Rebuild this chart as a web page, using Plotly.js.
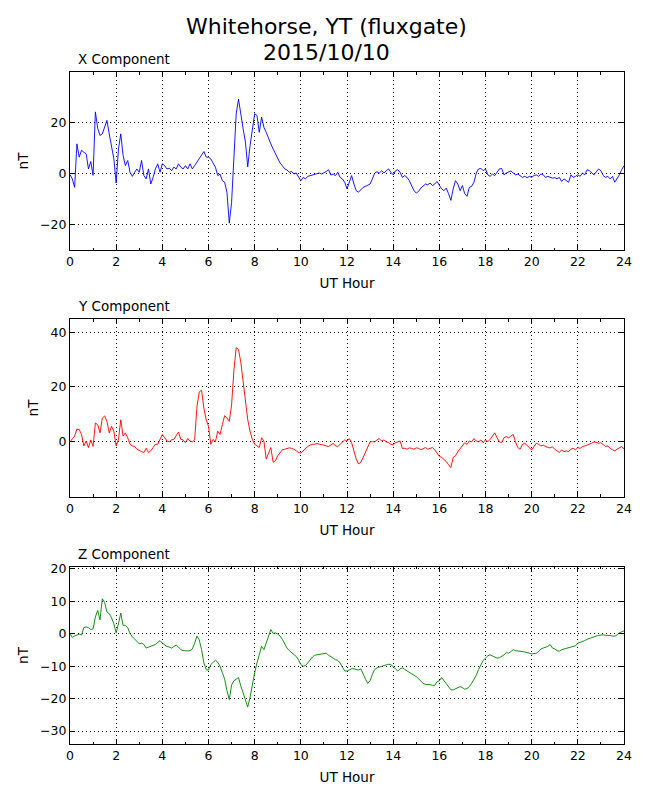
<!DOCTYPE html>
<html>
<head>
<meta charset="utf-8">
<script src="https://cdn.plot.ly/plotly-3.0.1.min.js"></script>
<style>
  html, body { margin: 0; padding: 0; background: #fff; }
  #plot { width: 650px; height: 800px; }
</style>
</head>
<body>
<div id="plot"></div>
<script>
const xComp = [
  -0.5, -2.2, -5.5, 11.5, 6.3, 9, 8.2, 7.6, 1.7, 4.6,
  -0.8, 24, 17.6, 14.8, 15.4, 18, 20.7, 15.4, 10.8, 5.6,
  -3.8, 9.5, 15.4, 7, 3, 5, 0.4, -1.2, 0.4, 1.7,
  0.4, 5, -0.9, -2.2, 1.7, -4.2, -1.6, 1.7, 3.7, 0.4,
  3.7, 3, 1.7, 2, 1, 2.4, 1.7, 3.7, 2.4, 1.7,
  3, 1.7, 3.7, 1.7, 3, 4.3, 5.6, 6.7, 8.5, 6.3,
  6.3, 5.6, 3.7, 2.4, -0.9, -0.3, -2.9, -3.5, -7.5, -19.5,
  -11.4, 8.2, 23.3, 29, 24, 17.4, 12.2, 2.5, 10.8, 17.4,
  23.3, 22.6, 16, 22, 18, 16, 13.5, 11.5, 9.5, 7.6,
  5.9, 4, 3, 1.7, 1.3, 0.4, 0.7, -0.3, 0.1, -1.2,
  -2.9, -1.6, -2.2, -1.2, -0.9, -0.7, -0.4, -0.3, 0.1, -0.3,
  0.1, 0.7, 1.4, -0.7, -0.3, -0.9, 0.4, -1.6, -2.2, -3.5,
  -6.1, -3.5, -0.9, -4.2, -6.8, -7.4, -6.4, -5.5, -5.1, -4.5,
  -4.2, -2.2, 0.1, 0.6, 0.1, 1, 0.1, 1, 1.7, 0.4,
  -0.6, 1, 1.4, 0.4, -1.6, -0.9, -1.6, -2.9, -4.8, -6.8,
  -7.7, -7.1, -5.8, -4.8, -4.2, -4.5, -3.8, -4.8, -4.2, -3.2,
  -4.5, -6.1, -6.8, -5.8, -8, -10.6, -6.1, -2.9, -4.2, -6.8,
  -4.8, -8, -9, -5.5, -5.1, -3.5, 0.1, 1.7, 1.9, 1,
  1.7, -0.6, -1.2, -0.3, -0.9, 0.4, 1.7, 1.9, -0.6, 0.1,
  0.6, 0.9, 0.1, -0.6, -0.3, -0.9, -1.6, -1.2, -1.7, -1.2,
  -1.6, -0.9, -0.6, -1.2, -0.3, -0.6, -1.6, -1.2, -1.7, -1.9,
  -1.7, -2.2, -1.6, -3.2, -2.2, -2.9, -3.5, -0.6, -1.6, -1.2,
  -0.6, -1.2, 0.1, -0.6, 1.4, 1, 0.1, -0.6, 0.6, 1.7,
  1, -0.9, -1.6, -1.2, -2.2, -1.2, -3.5, -2.2, -0.6, 1.4,
  3
]

const yComp = [
  -0.2, 0.7, 1.9, 4.5, 4.3, 2.5, -1.7, 0.1, -2.3, 0.5,
  -1.9, 6.7, 6.1, 3.1, 8.5, 9.3, 7.3, 3.1, 5.5, 3.7,
  -1.7, 0.7, 7.9, 1.9, 3.1, 1.3, -1.1, -1.7, -1.9, -2.9,
  -3.5, -3.8, -4.1, -2.6, -4.1, -3.5, -2.3, -1.1, -1.1, 0.7,
  2.5, 1.3, 0.1, -0.2, 0.5, 0.7, 1.9, 3.4, 0.7, 0.5,
  -0.5, 1, 0.1, -0.2, 0.5, 12.7, 18.1, 18.7, 12.1, 7.9,
  5.5, -1.1, 0.7, -0.2, 3.7, 2.5, 6.1, 9.4, 8.5, 7.3,
  13.3, 25.9, 34.3, 33.7, 28.9, 21.1, 13.9, 7.9, 3.7, 0.7,
  -1.1, -1.7, -2.3, 1.3, 0.1, -6.5, -4.1, -2.3, -7.7, -7.1,
  -5.3, -4.1, -3.1, -2.9, -2.6, -2.4, -2.6, -2.9, -3.5, -4.1,
  -4.3, -3.5, -2.6, -1.9, -1.4, -1.1, -1.1, -0.8, -1.1, -1.2,
  -1.4, -1.7, -1.9, -1.4, -0.7, -1.7, -1.9, -1.1, -0.2, 0.5,
  0.1, 1, -0.5, -3.5, -6.5, -8.3, -7.7, -5.9, -4.1, -2.3,
  -0.2, -0.1, -0.2, 0.5, 1, 0.1, 0.5, -0.2, -0.5, -1.1,
  -1.4, -0.5, -0.2, 0.1, -2.6, -2.6, -2.9, -2.4, -2.6, -2.9,
  -2.4, -2.6, -3.1, -2.6, -2.3, -2.9, -2.6, -2.3, -3.1, -4.1,
  -5.5, -5.9, -6.5, -7.4, -8.6, -9.6, -5.9, -5.3, -3.8, -2.6,
  -1.7, -0.5, -1.1, 0.1, -0.2, 1, 0.1, -0.2, 0.5, -0.5,
  0.5, -0.2, 0.7, 1.7, 3.1, 1.3, -0.2, -0.5, 1.3, 1.7,
  1.3, 1.9, 2.5, -0.2, -2.3, -2.9, -1.1, -0.7, -1.4, -2.3,
  -3.2, -1.7, -0.7, -1.1, -1.7, -1.4, -1.9, -2.3, -2.4, -2.0,
  -2.9, -3.5, -4.1, -3.1, -3.8, -3.5, -3.8, -2.9, -2.6, -3.1,
  -2.3, -2.6, -1.9, -1.7, -1.4, -1.1, -0.7, -0.2, -0.5, -0.7,
  -0.5, -1.4, -1.9, -1.7, -2.6, -3.1, -3.5, -2.9, -2.3, -1.9,
  -2.9
]

const zComp = [
  -0.1, -1.1, -0.7, -0.3, -0.1, -0.4, 1.9, 2.1, 1.9, 1.3,
  1.5, 5.2, 7.2, 4.3, 10.8, 9.7, 6.7, 6.2, 4.9, 3.1,
  0.3, 3.1, 6.4, 2.6, 2.6, 1.9, 0.1, -0.9, -1.7, -2.5,
  -3.1, -2.9, -3.3, -4.4, -4.1, -3.9, -3.5, -3.3, -2.7, -2.1,
  -2.9, -3.4, -3.9, -4.1, -4.4, -3.9, -3.5, -4.1, -4.9, -5.2,
  -5.3, -5.3, -5.2, -4.7, -2.9, -0.7, -1.9, -4.9, -9, -11.1,
  -11.2, -9.5, -8.8, -8.2, -8.8, -10, -12, -14, -17.6, -20.3,
  -15.8, -14.5, -14, -13.5, -16.1, -18.1, -20.1, -22.6, -19.6, -15.6,
  -12, -9, -6, -3.9, -4.9, -2.9, -0.4, 1.3, 0.1, 0.3,
  -0.1, -0.7, -1.7, -3.1, -4.4, -5.2, -5.8, -6.5, -7, -8,
  -9.5, -10, -9.8, -9, -8, -7.2, -6.6, -6.5, -6.3, -6.2,
  -6.2, -6, -6.6, -7.2, -7.5, -8, -8.2, -9, -10.2, -11.5,
  -11.5, -11.2, -10.8, -10.8, -11, -11.2, -10.8, -12.5, -14, -15.3,
  -14.5, -12.5, -11, -10.5, -10.2, -10, -9.8, -9.6, -9.4, -9.5,
  -10.2, -11, -11.5, -10.8, -10.5, -11, -11.5, -12, -12.5, -12.8,
  -13.2, -14, -14.8, -15.3, -15.6, -15.6, -15.7, -15.9, -15.9, -14.8,
  -14.5, -13.5, -14.5, -15.6, -16.6, -17.3, -17.3, -16.9, -16.6, -16.3,
  -16.6, -17.1, -16.9, -16.3, -15.3, -14.2, -12.8, -11, -9.5, -8.2,
  -7.5, -6.8, -6.5, -6.8, -7, -7.5, -7.4, -7, -6.5, -5.8,
  -6, -5.5, -4.9, -5.2, -5.3, -5.2, -5.5, -5.6, -5.8, -6,
  -6.2, -6.1, -6, -5.5, -4.7, -4.4, -4.1, -3.9, -3.3, -4.4,
  -4.7, -5.2, -5.4, -4.9, -4.7, -4.5, -4.2, -3.9, -3.9, -3.7,
  -2.9, -2.7, -2.5, -2.1, -1.7, -1.4, -1.1, -0.9, -0.7, -0.5,
  -0.4, -0.3, -0.5, -0.4, -0.5, -0.7, -0.7, -0.4, 0.3, 0.6,
  0.9
]

// UT hour of each sample
const hours = xComp.map((_, i) => i / 10)

const panelTitles = ["X Component", "Y Component", "Z Component"]
const lineColors = ["#0000ff", "#ff0000", "#008000"]
const titleLines = ["Whitehorse, YT (fluxgate)", "2015/10/10"]

const font = "DejaVu Sans, sans-serif"

const traces = [xComp, yComp, zComp].map((vals, i) => ({
  type: "scatter",
  mode: "lines",
  x: hours,
  y: vals,
  xaxis: i === 0 ? "x" : "x" + (i + 1),
  yaxis: i === 0 ? "y" : "y" + (i + 1),
  line: { color: lineColors[i], width: 0.9 },
  hoverinfo: "skip"
}))

const frame = {
  showline: true,
  linecolor: "black",
  linewidth: 1,
  mirror: "allticks",
  ticks: "inside",
  ticklen: 5,
  tickwidth: 1,
  tickcolor: "black",
  showgrid: true,
  gridcolor: "black",
  gridwidth: 1,
  griddash: "1px,3px",
  zeroline: false,
  tickfont: { family: font, size: 12.5, color: "black" }
}

function xAxis(anchor) {
  return Object.assign({}, frame, {
    anchor: anchor,
    domain: [0, 1],
    range: [0, 24],
    tick0: 0,
    dtick: 2,
    minor: { dtick: 1, ticks: "inside", ticklen: 2.5, tickcolor: "black", showgrid: false },
    title: { text: "UT Hour", font: { family: font, size: 13.5, color: "black" }, standoff: 10 }
  })
}

function yAxis(anchor, domain, range, ticks) {
  return Object.assign({}, frame, {
    anchor: anchor,
    domain: domain,
    range: range,
    tickmode: "array",
    tickvals: ticks,
    title: { text: "nT", font: { family: font, size: 13.5, color: "black" }, standoff: 8 }
  })
}

// two centred title lines, placed above the top panel (paper units)
const titleNotes = titleLines.map((t, i) => ({
  text: t,
  showarrow: false,
  xref: "paper",
  yref: "paper",
  x: 0.4635,
  y: i === 0 ? 1.0670 : 1.0283,
  xanchor: "center",
  yanchor: "middle",
  font: { family: font, size: 22, color: "black" }
}))

const panelNotes = panelTitles.map((t, i) => ({
  text: t,
  showarrow: false,
  xref: (i === 0 ? "x" : "x" + (i + 1)) + " domain",
  yref: (i === 0 ? "y" : "y" + (i + 1)) + " domain",
  x: 0,
  y: 1,
  xanchor: "left",
  yanchor: "bottom",
  xshift: 6,
  yshift: 3,
  font: { family: font, size: 13.5, color: "black" }
}))

const layout = {
  width: 650,
  height: 800,
  paper_bgcolor: "white",
  plot_bgcolor: "white",
  showlegend: false,
  margin: { l: 70, r: 26, t: 72, b: 56, pad: 0 },
  font: { family: font, color: "black" },
  xaxis: xAxis("y"),
  yaxis: yAxis("x", [0.7351, 1], [-30, 39.6], [-20, 0, 20]),
  xaxis2: xAxis("y2"),
  yaxis2: yAxis("x2", [0.3676, 0.6324], [-20.4, 44.8], [0, 20, 40]),
  xaxis3: xAxis("y3"),
  yaxis3: yAxis("x3", [0, 0.2634], [-34, 20.6], [-30, -20, -10, 0, 10, 20]),
  annotations: titleNotes.concat(panelNotes)
}

Plotly.newPlot("plot", traces, layout, { displayModeBar: false, staticPlot: true })
</script>
</body>
</html>
